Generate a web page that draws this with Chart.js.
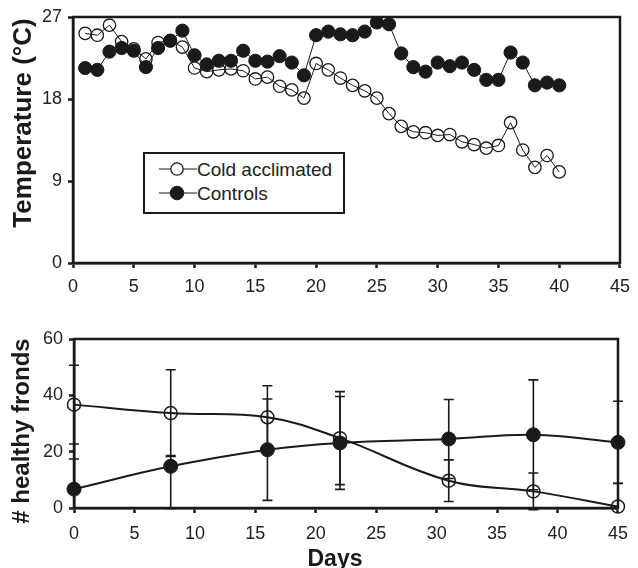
<!DOCTYPE html>
<html>
<head>
<meta charset="utf-8">
<script src="https://cdn.jsdelivr.net/npm/chart.js@4/dist/chart.umd.min.js"></script>
<style>
  html, body { margin: 0; padding: 0; background: #fff; }
  body { width: 638px; height: 568px; position: relative; overflow: hidden; font-family: 'Liberation Sans', Arial, Helvetica, sans-serif; color: #222; }
  canvas { position: absolute; left: 0; }
  #c1 { top: 0; }
  #c2 { top: 300px; }
  .ytitle { position: absolute; font-weight: bold; white-space: nowrap; line-height: 1; transform: translate(-50%, -50%) rotate(-90deg); color: #1a1a1a; }
  #xtitle { position: absolute; font-weight: bold; font-size: 23px; line-height: 23px; white-space: nowrap; transform: translateX(-50%); color: #1a1a1a; }
  #legend { position: absolute; left: 143px; top: 152px; width: 202px; height: 62px; box-sizing: border-box; border: 2.5px solid #1a1a1a; background: #fff; }
  #legend svg { position: absolute; left: 0; top: 0; }
  .ltext { position: absolute; font-size: 19px; line-height: 19px; white-space: nowrap; color: #222; }
</style>
</head>
<body>
<canvas id="c1" width="638" height="300"></canvas>
<canvas id="c2" width="638" height="268"></canvas>
<div class="ytitle" id="t1" style="left:22px; top:123px; font-size:26px;">Temperature (°C)</div>
<div class="ytitle" id="t2" style="left:21px; top:431px; font-size:24px;"># healthy fronds</div>
<div id="xtitle" style="left:335px; top:547px;">Days</div>
<div id="legend">
  <svg width="202" height="62" viewBox="0 0 202 62">
    <line x1="14" y1="15" x2="52" y2="15" stroke="#1a1a1a" stroke-width="1.2"/>
    <circle cx="32" cy="15" r="6.2" fill="#fff" stroke="#1a1a1a" stroke-width="1.3"/>
    <line x1="14" y1="39" x2="52" y2="39" stroke="#1a1a1a" stroke-width="1.2"/>
    <circle cx="32" cy="39" r="6.8" fill="#1a1a1a" stroke="#1a1a1a" stroke-width="1"/>
  </svg>
  <span class="ltext" style="left:52px; top:6px;">Cold acclimated</span>
  <span class="ltext" style="left:52px; top:30px;">Controls</span>
</div>
<script>
// ---------- Data: top panel (temperature) ----------
const tempDays = [1,2,3,4,5,6,7,8,9,10,11,12,13,14,15,16,17,18,19,20,21,22,23,24,25,26,27,28,29,30,31,32,33,34,35,36,37,38,39,40];
const tempCold = [25.2,25.0,26.1,24.3,23.5,22.4,24.2,24.4,23.7,21.4,21.0,21.2,21.3,21.1,20.2,20.4,19.4,19.0,18.1,21.9,21.2,20.3,19.5,18.9,18.1,16.4,15.0,14.4,14.3,14.0,14.1,13.3,13.0,12.6,12.9,15.4,12.4,10.5,11.8,10.0];
const tempControls = [21.4,21.2,23.2,23.6,23.3,21.5,23.6,24.4,25.5,22.8,21.8,22.2,22.2,23.3,22.2,22.1,22.7,22.0,20.6,25.0,25.4,25.1,25.0,25.4,26.4,26.2,23.0,21.5,21.0,22.0,21.6,22.0,21.2,20.1,20.1,23.1,22.0,19.5,19.8,19.5];
const tempTicks = [0, 9, 18, 27];

// ---------- Data: bottom panel (healthy fronds) ----------
const frondDays = [0, 8, 16, 22, 31, 38, 45];
const frondCold = [36.7, 33.7, 32.2, 24.8, 9.7, 5.9, 0.5];
const frondColdErr = [14.0, 15.4, 11.2, 16.5, 7.4, 6.5, 8.3];
const frondControls = [6.7, 14.8, 20.7, 23.1, 24.5, 26.0, 23.3];
const frondControlsErrPlus = [10.7, 3.8, 18.0, 16.5, 14.0, 19.5, 14.6];
const frondControlsErrMinus = [10.7, 15.0, 18.0, 16.5, 14.0, 19.5, 14.6];
const frondTicks = [0, 20, 40, 60];
const dayTicks = [0, 5, 10, 15, 20, 25, 30, 35, 40, 45];

const INK = '#1a1a1a';
const TXT = '#222';
const FONT = "'Liberation Sans', Arial, Helvetica, sans-serif";

const pts = (xs, ys) => xs.map((x, i) => ({ x: x, y: ys[i] }));

const framePlugin = {
  id: 'frame',
  afterDraw(chart) {
    const a = chart.chartArea, ctx = chart.ctx;
    ctx.save();
    ctx.strokeStyle = INK;
    ctx.lineWidth = 2.5;
    ctx.strokeRect(a.left, a.top, a.right - a.left, a.bottom - a.top);
    ctx.restore();
  }
};

function xScale(height, pad) {
  return {
    type: 'linear', min: 0, max: 45,
    afterBuildTicks: s => { s.ticks = dayTicks.map(v => ({ value: v })); },
    afterFit: s => { s.height = height; },
    ticks: { color: TXT, font: { family: FONT, size: 18 }, padding: pad, maxRotation: 0, autoSkip: false },
    grid: { display: true, drawOnChartArea: false, drawTicks: true, tickLength: 5, tickWidth: 2.5, tickColor: INK },
    border: { display: true, color: INK, width: 2.5 }
  };
}
function yScale(min, max, tickVals, width) {
  return {
    type: 'linear', min: min, max: max,
    afterBuildTicks: s => { s.ticks = tickVals.map(v => ({ value: v })); },
    afterFit: s => { s.width = width; },
    ticks: { color: TXT, font: { family: FONT, size: 18 }, padding: 6 },
    grid: { display: true, drawOnChartArea: false, drawTicks: true, tickLength: 5, tickWidth: 2.5, tickColor: INK },
    border: { display: true, color: INK, width: 2.5 }
  };
}

// ---------- Top chart ----------
new Chart(document.getElementById('c1'), {
  type: 'line',
  data: {
    datasets: [
      {
        label: 'Cold acclimated', data: pts(tempDays, tempCold), order: 0,
        borderColor: INK, borderWidth: 1, tension: 0,
        pointRadius: 6.2, pointBorderWidth: 1.3, pointBackgroundColor: 'rgba(0,0,0,0)', pointBorderColor: INK
      },
      {
        label: 'Controls', data: pts(tempDays, tempControls), order: 1,
        borderColor: INK, borderWidth: 1, tension: 0,
        pointRadius: 6.6, pointBorderWidth: 1, pointBackgroundColor: INK, pointBorderColor: INK
      }
    ]
  },
  options: {
    responsive: false, animation: false, devicePixelRatio: 1,
    layout: { padding: { top: 17, right: 11, left: 0, bottom: 0 } },
    plugins: { legend: { display: false }, tooltip: { enabled: false } },
    scales: { x: xScale(37, 8), y: yScale(0, 27, tempTicks, 73) }
  },
  plugins: [framePlugin]
});

// ---------- Bottom chart ----------
const errorBarPlugin = {
  id: 'errbars',
  beforeDatasetsDraw(chart) {
    const ctx = chart.ctx, xs = chart.scales.x, ys = chart.scales.y, a = chart.chartArea;
    const bars = [
      { v: frondCold, up: frondColdErr, dn: frondColdErr },
      { v: frondControls, up: frondControlsErrPlus, dn: frondControlsErrMinus }
    ];
    ctx.save();
    ctx.strokeStyle = INK;
    ctx.lineWidth = 1.6;
    bars.forEach(b => {
      frondDays.forEach((d, i) => {
        const px = xs.getPixelForValue(d);
        const hi = b.v[i] + b.up[i], lo = b.v[i] - b.dn[i];
        const pyHi = ys.getPixelForValue(hi);
        let pyLo = ys.getPixelForValue(lo);
        const clipped = pyLo > a.bottom + 2;
        if (clipped) pyLo = a.bottom;
        ctx.beginPath();
        ctx.moveTo(px, pyHi); ctx.lineTo(px, pyLo);
        ctx.moveTo(px - 5, pyHi); ctx.lineTo(px + 5, pyHi);
        if (!clipped) { ctx.moveTo(px - 5, pyLo); ctx.lineTo(px + 5, pyLo); }
        ctx.stroke();
      });
    });
    ctx.restore();
  }
};

new Chart(document.getElementById('c2'), {
  type: 'line',
  data: {
    datasets: [
      {
        label: 'Cold acclimated', data: pts(frondDays, frondCold), order: 1,
        borderColor: INK, borderWidth: 2, tension: 0.4,
        pointRadius: 6.5, pointBorderWidth: 1.5, pointBackgroundColor: 'rgba(0,0,0,0)', pointBorderColor: INK
      },
      {
        label: 'Controls', data: pts(frondDays, frondControls), order: 0,
        borderColor: INK, borderWidth: 2, tension: 0.4,
        pointRadius: 7, pointBorderWidth: 1, pointBackgroundColor: INK, pointBorderColor: INK
      }
    ]
  },
  options: {
    responsive: false, animation: false, devicePixelRatio: 1,
    clip: false,
    layout: { padding: { top: 39, right: 11, left: 0, bottom: 0 } },
    plugins: { legend: { display: false }, tooltip: { enabled: false } },
    scales: { x: xScale(60, 10), y: yScale(0, 60, frondTicks, 74) }
  },
  plugins: [framePlugin, errorBarPlugin]
});
</script>
</body>
</html>
